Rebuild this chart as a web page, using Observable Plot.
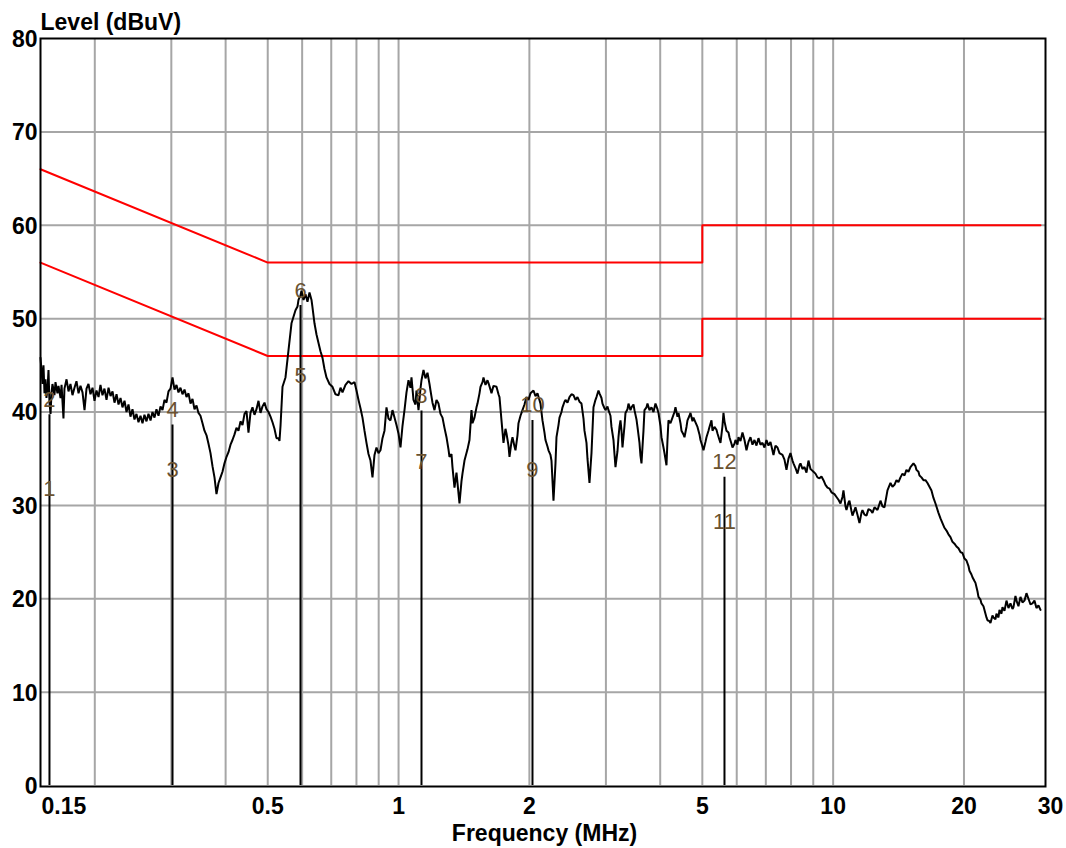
<!DOCTYPE html>
<html>
<head>
<meta charset="utf-8">
<script src="https://cdn.jsdelivr.net/npm/d3@7"></script>
<script src="https://cdn.jsdelivr.net/npm/@observablehq/plot@0.6"></script>
<style>
  body { margin: 0; background: #fff; }
  svg { display: block; }
</style>
</head>
<body>
<div id="chart"></div>
<script>
// Measured spectrum: [frequency MHz, level dBuV]
const trace = [
[0.1500,45.8],[0.1508,44.5],[0.1516,43.0],[0.1524,45.0],[0.1532,42.0],[0.1540,43.5],[0.1548,41.5],[0.1557,42.5],[0.1565,44.5],[0.1573,41.0],[0.1582,39.8],[0.1590,42.0],[0.1598,43.0],[0.1615,41.8],[0.1624,43.2],[0.1641,42.0],[0.1650,42.8],[0.1668,41.5],[0.1677,42.9],[0.1694,39.3],[0.1703,42.5],[0.1722,43.5],[0.1740,42.2],[0.1758,43.0],[0.1777,41.8],[0.1796,42.6],[0.1815,43.3],[0.1835,42.0],[0.1854,42.8],[0.1874,42.1],[0.1894,40.2],[0.1914,42.5],[0.1934,43.0],[0.1955,41.9],[0.1976,42.6],[0.1997,41.2],[0.2018,42.3],[0.2040,41.6],[0.2061,42.9],[0.2083,41.8],[0.2105,42.5],[0.2128,41.3],[0.2151,42.6],[0.2174,41.7],[0.2197,42.2],[0.2220,41.0],[0.2244,41.9],[0.2268,40.8],[0.2292,41.5],[0.2316,40.5],[0.2341,41.2],[0.2366,40.0],[0.2391,40.8],[0.2416,39.5],[0.2442,40.3],[0.2468,39.2],[0.2494,39.8],[0.2521,38.9],[0.2548,39.6],[0.2575,38.8],[0.2602,39.7],[0.2630,39.0],[0.2658,39.8],[0.2687,39.1],[0.2715,40.0],[0.2744,39.4],[0.2773,40.3],[0.2803,39.6],[0.2833,40.6],[0.2863,40.2],[0.2893,41.3],[0.2924,41.0],[0.2955,42.2],[0.2987,42.5],[0.3019,43.7],[0.3051,42.4],[0.3083,42.9],[0.3116,42.1],[0.3149,42.6],[0.3183,41.9],[0.3217,42.4],[0.3251,41.6],[0.3286,42.0],[0.3321,40.9],[0.3356,41.4],[0.3392,40.3],[0.3428,40.7],[0.3464,39.9],[0.3501,39.6],[0.3539,38.8],[0.3576,38.0],[0.3615,37.5],[0.3653,36.6],[0.3692,35.6],[0.3731,34.2],[0.3771,33.0],[0.3811,31.2],[0.3852,32.4],[0.3893,33.0],[0.3934,33.6],[0.3976,34.5],[0.4019,35.2],[0.4061,35.7],[0.4105,36.5],[0.4148,37.0],[0.4193,37.6],[0.4237,38.3],[0.4282,38.0],[0.4328,39.0],[0.4374,38.6],[0.4421,39.8],[0.4468,40.1],[0.4515,37.8],[0.4563,39.9],[0.4612,40.5],[0.4661,39.7],[0.4711,40.3],[0.4761,41.2],[0.4812,39.9],[0.4863,40.6],[0.4915,41.0],[0.4967,40.3],[0.5020,40.0],[0.5074,39.5],[0.5128,38.9],[0.5182,38.2],[0.5237,37.2],[0.5293,37.2],[0.5321,36.9],[0.5350,38.5],
[0.5407,42.7],[0.5493,43.7],[0.5581,46.6],[0.5671,49.5],[0.5731,50.2],[0.5792,50.9],[0.5854,51.3],[0.5885,52.0],[0.5948,52.5],[0.5979,53.0],[0.6043,52.0],[0.6107,52.6],[0.6172,51.8],[0.6238,52.8],[0.6305,52.0],[0.6338,51.2],[0.6405,49.5],[0.6474,48.3],[0.6543,47.4],[0.6612,46.5],[0.6683,45.8],[0.6754,44.6],[0.6826,43.7],[0.6935,43.0],[0.7046,42.7],[0.7159,41.9],[0.7274,41.8],[0.7352,42.6],[0.7430,42.1],[0.7549,42.9],[0.7670,43.3],[0.7793,43.0],[0.7918,43.2],[0.8002,42.3],[0.8087,41.3],[0.8173,40.4],[0.8260,39.4],[0.8348,38.0],[0.8437,36.7],[0.8527,35.5],[0.8618,34.8],[0.8710,33.0],[0.8803,35.4],[0.8896,36.2],[0.8991,35.6],[0.9087,35.9],[0.9184,37.2],[0.9282,38.0],[0.9380,40.5],[0.9480,39.3],[0.9581,39.1],[0.9683,40.2],[0.9787,39.4],[0.9891,38.6],[0.9996,37.7],[1.0103,36.2],[1.0210,38.5],[1.0319,40.2],[1.0429,42.1],[1.0540,43.4],[1.0652,42.6],[1.0709,43.7],[1.0823,41.3],[1.0938,40.8],[1.0996,42.3],[1.1114,40.2],[1.1232,42.5],[1.1292,43.4],[1.1412,44.5],[1.1534,43.6],[1.1656,44.2],[1.1781,43.0],[1.1843,42.3],[1.1969,41.0],[1.2097,40.2],[1.2226,41.3],[1.2356,40.9],[1.2488,39.8],[1.2621,39.4],[1.2755,38.3],[1.2891,37.3],[1.3028,36.0],[1.3097,35.2],[1.3237,35.5],[1.3307,34.1],[1.3449,31.9],[1.3592,33.5],[1.3664,32.4],[1.3810,30.2],[1.3957,32.6],[1.4031,33.4],[1.4181,34.8],[1.4256,35.2],[1.4408,36.0],[1.4561,37.0],[1.4717,40.2],[1.4795,38.8],[1.4952,39.4],[1.5112,40.5],[1.5192,40.9],[1.5354,42.0],[1.5435,42.7],[1.5600,43.2],[1.5683,43.7],[1.5850,42.9],[1.6018,43.4],[1.6104,43.1],[1.6275,42.4],[1.6362,42.0],[1.6536,42.8],[1.6801,42.7],[1.6980,41.9],[1.7070,41.6],[1.7252,39.1],[1.7436,36.7],[1.7621,38.2],[1.7715,37.7],[1.7904,36.4],[1.7999,35.2],[1.8190,36.8],[1.8287,37.3],[1.8482,36.3],[1.8580,35.9],[1.8778,37.5],[1.8878,38.8],[1.9079,39.6],[1.9282,40.2],[1.9488,40.8],[1.9695,41.6],[1.9905,41.3],[2.0117,42.0],[2.0439,42.3],[2.0657,41.7],[2.0877,42.0],
[2.1212,40.9],[2.1437,39.1],[2.1666,37.8],[2.1781,37.0],[2.2013,36.3],[2.2130,35.9],[2.2366,35.4],[2.2484,34.8],[2.2724,30.5],[2.2966,34.5],[2.3088,37.3],[2.3334,38.6],[2.3458,39.4],[2.3708,40.0],[2.3834,40.5],[2.4088,41.1],[2.4216,41.3],[2.4474,41.0],[2.4734,41.6],[2.4998,41.9],[2.5264,41.8],[2.5533,41.3],[2.5805,41.6],[2.6080,41.1],[2.6358,40.9],[2.6639,39.3],[2.6780,38.0],[2.7065,36.7],[2.7209,35.0],[2.7499,32.4],[2.7645,34.0],[2.7792,35.6],[2.8088,40.5],[2.8387,41.3],[2.8538,41.6],[2.8842,42.3],[2.8995,42.0],[2.9304,41.5],[2.9460,40.9],[2.9774,40.4],[2.9932,40.2],[3.0251,40.6],[3.0411,40.2],[3.0735,39.6],[3.0899,38.4],[3.1228,37.0],[3.1393,35.5],[3.1560,34.1],[3.1897,35.8],[3.2066,37.3],[3.2236,38.4],[3.2408,39.1],[3.2580,38.0],[3.2753,36.2],[3.3102,38.5],[3.3278,39.9],[3.3632,40.3],[3.3811,40.9],[3.4171,40.2],[3.4352,40.5],[3.4718,40.8],[3.4903,40.2],[3.5275,39.2],[3.5462,38.4],[3.5840,36.7],[3.6030,35.3],[3.6222,34.5],[3.6607,38.0],[3.6802,40.2],[3.7194,40.5],[3.7391,40.9],[3.7790,40.2],[3.8192,40.5],[3.8599,40.0],[3.9010,40.9],[3.9426,40.3],[3.9635,39.9],[4.0058,38.5],[4.0270,37.3],[4.0699,36.2],[4.0916,35.6],[4.1351,34.3],[4.1571,37.0],[4.1792,39.1],[4.2237,38.8],[4.2687,39.4],[4.3142,40.0],[4.3371,40.5],[4.3833,39.5],[4.4066,39.9],[4.4535,38.8],[4.4772,38.0],[4.5249,37.6],[4.5489,37.3],[4.5974,38.4],[4.6218,39.1],[4.6710,39.6],[4.6958,39.9],[4.7459,39.0],[4.7711,39.4],[4.8219,38.9],[4.8733,38.4],[4.9251,37.6],[4.9513,37.0],[5.0041,36.3],[5.0307,35.9],[5.0843,36.8],[5.1113,37.3],[5.1657,38.0],[5.1932,38.4],[5.2485,39.1],[5.2764,38.0],[5.3325,38.4],[5.3894,38.1],[5.4180,37.7],[5.4757,37.0],[5.5048,36.7],[5.5634,38.5],[5.5930,39.9],[5.6227,39.0],[5.6826,38.0],[5.7431,37.8],[5.7736,37.3],[5.8351,36.6],[5.8661,36.2],[5.9286,36.6],[5.9601,37.0],[6.0236,36.5],[6.0556,37.3],[6.1201,36.9],[6.1853,37.8],[6.2512,37.0],[6.3178,35.9],[6.3851,36.8],[6.4531,37.3],[6.5219,36.5],[6.5913,37.0],[6.6615,36.4],[6.7325,37.2],[6.8042,36.5],[6.8767,36.7],[6.9500,36.2],[7.0240,37.0],[7.0988,36.4],[7.1745,36.8],[7.2894,35.4],[7.3670,36.4],[7.4455,36.2],[7.5248,35.6],[7.6454,35.4],[7.7268,34.9],[7.8091,33.8],[7.8923,35.0],[7.9764,35.6],[8.0614,34.8],[8.1042,34.5],[8.1905,34.0],[8.2778,33.4],[8.3658,34.3],
[8.4104,34.5],[8.5000,33.9],[8.5905,34.1],[8.6820,33.5],[8.7745,34.8],[8.8680,33.9],[8.9151,33.8],[9.0100,33.6],[9.1061,33.4],[9.2030,33.0],[9.3010,32.9],[9.4002,33.1],[9.5003,32.7],[9.6015,32.2],[9.7038,31.9],[9.8072,31.8],[9.9116,31.4],[10.070,31.2],[10.178,30.9],[10.286,30.6],[10.396,30.2],[10.506,30.9],[10.562,31.6],[10.675,29.9],[10.731,29.5],[10.846,30.3],[10.903,30.5],[11.020,29.4],[11.078,28.9],[11.196,29.5],[11.256,29.8],[11.375,29.0],[11.497,28.1],[11.619,29.2],[11.681,29.5],[11.805,29.0],[11.931,28.9],[12.058,29.6],[12.187,29.5],[12.316,29.2],[12.448,29.8],[12.647,29.5],[12.850,30.5],[12.987,29.9],[13.125,29.8],[13.335,31.6],[13.549,32.4],[13.693,32.0],[13.839,32.2],[13.986,32.7],[14.135,32.5],[14.286,33.0],[14.438,33.4],[14.592,33.2],[14.747,33.8],[14.904,33.6],[15.063,34.1],[15.304,34.5],[15.468,34.2],[15.550,33.8],[15.715,33.6],[15.799,33.2],[15.967,33.0],[16.137,32.7],[16.309,32.7],[16.483,32.4],[16.659,32.0],[16.836,31.6],[17.015,30.8],[17.197,30.2],[17.472,29.2],[17.658,28.6],[17.846,28.1],[18.036,27.6],[18.229,27.3],[18.423,26.9],[18.619,26.6],[18.817,26.1],[19.018,25.9],[19.220,25.6],[19.425,25.4],[19.632,25.0],[19.841,24.9],[20.053,24.3],[20.266,24.1],[20.482,23.5],[20.591,23.0],[20.810,22.6],[20.921,22.3],[21.143,21.9],[21.256,21.7],[21.482,20.8],[21.597,20.2],[21.827,19.9],[21.942,19.5],[22.176,19.2],[22.294,18.8],[22.532,18.0],[22.651,17.7],[22.892,17.6],[23.014,17.4],[23.259,18.2],[23.383,18.0],[23.632,17.8],[23.757,18.4],[24.011,18.0],[24.138,18.8],[24.395,18.4],[24.525,19.1],[24.786,18.7],[25.050,19.8],[25.317,19.0],[25.587,19.5],[25.859,18.9],[25.996,19.1],[26.273,20.3],[26.413,19.8],[26.694,19.2],[26.979,20.2],[27.266,19.6],[27.557,19.8],[27.850,20.6],[28.147,20.0],[28.447,19.4],[28.750,19.5],[29.056,19.8],[29.365,19.0],[29.678,19.3],[30.0,18.8]
];

// Limit lines (QP and AV)
const limitFreq = [0.15, 0.5, 5, 5, 30];
const qpLimitLevel = [66, 56, 56, 60, 60];
const avLimitLevel = [56, 46, 46, 50, 50];

// Markers
const markerNo = ["1","2","3","4","5","6","7","8","9","10","11","12"];
const markerFreq = [0.1573,0.1573,0.3019,0.3019,0.5948,0.5948,1.1292,1.1292,2.0331,2.0331,5.6227,5.6227];
const markerLevel = [30.2,39.7,32.2,38.6,42.3,51.4,33.0,40.1,32.2,39.1,26.6,33.0];

// Axes
const xGrid = [0.2,0.3,0.4,0.5,0.6,0.7,0.8,0.9,1,2,3,4,5,6,7,8,9,10,20];
const yGrid = [10,20,30,40,50,60,70];
const xTickValues = [0.15,0.5,1,2,5,10,20,30];
const xTickLabels = ["0.15","0.5","1","2","5","10","20","30"];
const yTickValues = [0,10,20,30,40,50,60,70,80];
const yTickLabels = ["0","10","20","30","40","50","60","70","80"];
const yTitle = "Level (dBuV)";
const xTitle = "Frequency (MHz)";

// Build tables
const traceData = trace.map(([f, v]) => ({f, v}));
const qpLimit = limitFreq.map((f, i) => ({f, v: qpLimitLevel[i]}));
const avLimit = limitFreq.map((f, i) => ({f, v: avLimitLevel[i]}));
const markers = markerNo.map((n, i) => ({n, f: markerFreq[i], v: markerLevel[i]}));
const markerLines = markers.filter((d, i) => i % 2 === 1);
const xTicks = xTickValues.map((v, i) => ({v, label: xTickLabels[i]}));
const yTicks = yTickValues.map((v, i) => ({v, label: yTickLabels[i]}));

const FONT = "'Liberation Sans', Arial, Helvetica, sans-serif";
const labelColor = "#6a5230";
const BOLD = 23;

const chart = Plot.plot({
  width: 1066,
  height: 848,
  marginLeft: 40,
  marginRight: 26,
  marginTop: 38,
  marginBottom: 63,
  style: { fontFamily: FONT, background: "white", overflow: "visible" },
  x: { type: "log", domain: [0.15, 30], axis: null },
  y: { domain: [0, 80], axis: null },
  marks: [
    Plot.ruleX(xGrid, { x: d => d, stroke: "#a6a6a6", strokeWidth: 2 }),
    Plot.ruleY(yGrid, { y: d => d, stroke: "#a6a6a6", strokeWidth: 2, insetRight: -5 }),
    Plot.line(qpLimit, { x: "f", y: "v", stroke: "#ff0000", strokeWidth: 2 }),
    Plot.line(avLimit, { x: "f", y: "v", stroke: "#ff0000", strokeWidth: 2 }),
    Plot.line(traceData, { x: "f", y: "v", stroke: "black", strokeWidth: 2, strokeLinejoin: "miter" }),
    Plot.ruleX(markerLines, { x: "f", y1: 0, y2: "v", stroke: "black", strokeWidth: 2 }),
    Plot.text(markers, { x: "f", y: "v", text: "n", dy: -15, fill: labelColor, fontSize: 22, fontWeight: "normal" }),
    Plot.frame({ stroke: "black", strokeWidth: 2, insetRight: -5, insetBottom: -1 }),
    // x tick labels
    Plot.text(xTicks.filter((d, i) => i === 0), { x: "v", y: 0, text: "label", textAnchor: "start", dx: 1, dy: 21, fontSize: BOLD, fontWeight: "bold", fill: "black" }),
    Plot.text(xTicks.filter((d, i) => i > 0 && i < xTicks.length - 1), { x: "v", y: 0, text: "label", dy: 21, fontSize: BOLD, fontWeight: "bold", fill: "black" }),
    Plot.text(xTicks.filter((d, i) => i === xTicks.length - 1), { x: "v", y: 0, text: "label", dx: 10, dy: 21, fontSize: BOLD, fontWeight: "bold", fill: "black" }),
    // y tick labels
    Plot.text(yTicks, { x: 0.15, y: "v", text: "label", textAnchor: "end", dx: -3, dy: 1, fontSize: BOLD, fontWeight: "bold", fill: "black" }),
    // titles
    Plot.text([yTitle], { frameAnchor: "top-left", text: d => d, textAnchor: "start", lineAnchor: "middle", dy: -16, fontSize: BOLD, fontWeight: "bold", fill: "black" }),
    Plot.text([xTitle], { frameAnchor: "bottom", text: d => d, lineAnchor: "middle", dx: 4, dy: 48, fontSize: BOLD, fontWeight: "bold", fill: "black" })
  ]
});

document.getElementById("chart").appendChild(chart);
</script>
</body>
</html>
